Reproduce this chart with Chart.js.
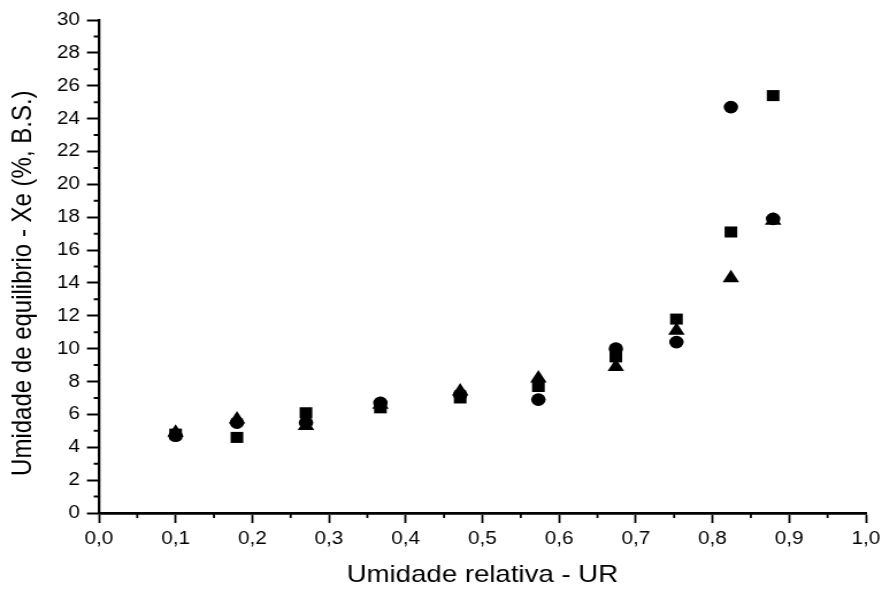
<!DOCTYPE html>
<html>
<head>
<meta charset="utf-8">
<script src="https://cdn.jsdelivr.net/npm/chart.js@4"></script>
<style>
  html, body { margin: 0; padding: 0; background: #fff; }
  #chart { display: block; }
</style>
</head>
<body>
<canvas id="chart"></canvas>
<script>
// the source figure is stretched horizontally, so draw narrow and stretch with CSS
const STRETCH = 1.15;
const PAGE_W = 882;
const PAGE_H = 590;

const humidity = [0.1, 0.18, 0.27, 0.367, 0.471, 0.573, 0.674, 0.753, 0.824, 0.879];
const seriesSquare = [4.8, 4.6, 6.1, 6.4, 7.0, 7.7, 9.5, 11.8, 17.1, 25.4];
const seriesCircle = [4.7, 5.5, 5.5, 6.7, 7.2, 6.9, 10.0, 10.4, 24.7, 17.9];
const seriesTriangle = [4.9, 5.7, 5.3, 6.6, 7.4, 8.2, 8.9, 11.1, 14.3, 17.8];

const FONT = "'Liberation Sans', Arial, sans-serif";

function points(ys) {
  return humidity.map((x, i) => ({ x, y: ys[i] }));
}

function dataset(label, ys, style, radius) {
  return {
    label,
    data: points(ys),
    pointStyle: style,
    pointRadius: radius,
    pointHoverRadius: radius,
    backgroundColor: '#000',
    borderColor: '#000',
    borderWidth: 0,
    showLine: false,
  };
}

// minor ticks halfway between the labelled ones
const minorTicks = {
  id: 'minorTicks',
  afterDraw(chart) {
    const { ctx, scales: { x, y } } = chart;
    ctx.save();
    ctx.strokeStyle = '#000';
    ctx.beginPath();
    ctx.lineWidth = 2;
    for (let v = 1; v < 30; v += 2) {
      const py = y.getPixelForValue(v);
      ctx.moveTo(y.right - 4.5, py);
      ctx.lineTo(y.right, py);
    }
    ctx.stroke();
    ctx.beginPath();
    ctx.lineWidth = 1.8;
    for (let k = 0; k < 10; k++) {
      const px = x.getPixelForValue(k / 10 + 0.05);
      ctx.moveTo(px, x.top);
      ctx.lineTo(px, x.top + 5);
    }
    ctx.stroke();
    ctx.restore();
  }
};

const canvas = document.getElementById('chart');
canvas.width = Math.round(PAGE_W / STRETCH);
canvas.height = PAGE_H;
canvas.style.width = PAGE_W + 'px';
canvas.style.height = PAGE_H + 'px';

new Chart(canvas, {
  type: 'scatter',
  data: {
    datasets: [
      dataset('quadrado', seriesSquare, 'rect', 7.8),
      dataset('círculo', seriesCircle, 'circle', 6.3),
      dataset('triângulo', seriesTriangle, 'triangle', 8.3),
    ],
  },
  options: {
    responsive: false,
    animation: false,
    devicePixelRatio: 1,
    layout: { padding: { left: 0, right: 14, top: 20, bottom: 0 } },
    plugins: { legend: { display: false }, tooltip: { enabled: false } },
    scales: {
      x: {
        type: 'linear',
        min: 0,
        max: 1,
        afterFit: s => { s.height = 77; s.paddingLeft = 0; s.paddingRight = 0; },
        ticks: {
          stepSize: 0.1,
          padding: 5,
          color: '#000',
          font: { family: FONT, size: 18 },
          callback: v => v.toFixed(1).replace('.', ','),
        },
        grid: { drawOnChartArea: false, drawTicks: true, tickLength: 10, tickWidth: 1.8, color: '#000' },
        border: { display: true, color: '#000', width: 2.8 },
        title: {
          display: true,
          text: 'Umidade relativa - UR',
          color: '#000',
          font: { family: FONT, size: 24 },
          padding: { top: 0, bottom: 0 },
        },
      },
      y: {
        type: 'linear',
        min: 0,
        max: 30,
        afterFit: s => { s.width = 86; },
        ticks: {
          stepSize: 2,
          padding: 6,
          color: '#000',
          font: { family: FONT, size: 18 },
        },
        grid: { drawOnChartArea: false, drawTicks: true, tickLength: 10.4, tickWidth: 2, color: '#000' },
        border: { display: true, color: '#000', width: 2.3 },
        title: {
          display: true,
          // trailing spaces nudge the title down, as it sits in the source
          text: 'Umidade de equilibrio - Xe (%, B.S.)\u00a0\u00a0\u00a0\u00a0\u00a0',
          color: '#000',
          font: { family: FONT, size: 24 },
          padding: { top: 6, bottom: 0 },
        },
      },
    },
  },
  plugins: [minorTicks],
});
</script>
</body>
</html>
